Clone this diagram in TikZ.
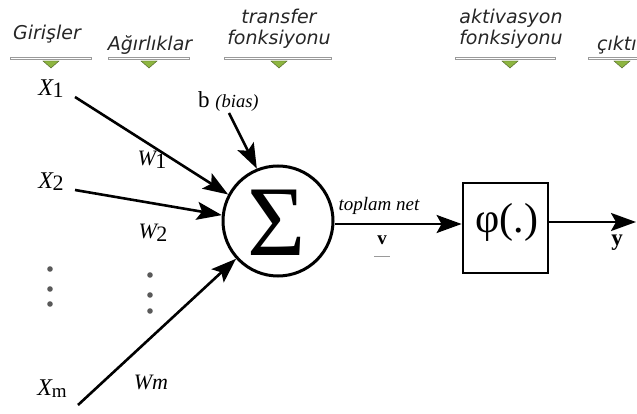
\documentclass[tikz,border=0pt]{standalone}
\usepackage{fontspec}
\setmainfont{Liberation Serif}
\newfontfamily\hdr{DejaVu Sans}
\usetikzlibrary{arrows.meta}
\definecolor{hgreen}{HTML}{8DB540}
\definecolor{hgray}{HTML}{9A9A9A}
\tikzset{
  hdrtext/.style={font=\hdr\itshape\fontsize{19}{20.5}\selectfont, text=black!85, align=center, inner sep=0pt},
  hbar/.style={draw=hgray, line width=2.8pt},
  tri/.style={fill=hgreen, draw=hgreen!50!black, line width=0.4pt},
  lbl/.style={font=\fontsize{24}{26}\selectfont, inner sep=0pt},
  wlbl/.style={font=\fontsize{22}{24}\selectfont, inner sep=0pt},
  arr/.style={line width=2.6pt, -{Stealth[length=25pt,width=18pt,inset=5pt]}},
  dotc/.style={fill=black!65, draw=none},
}
\begin{document}
\begin{tikzpicture}[x=1pt,y=-1pt]
\useasboundingbox (0,0) rectangle (637,414);
% headers
\node[hdrtext] (hg) at (47,34) {Girişler};
\node[hdrtext] (ha) at (150,45) {Ağırlıklar};
\node[hdrtext] (ht) at (279,29) {transfer\\fonksiyonu};
\node[hdrtext] (hk) at (511,29) {aktivasyon\\fonksiyonu};
\node[hdrtext, anchor=west] (hc) at (597,45) {çıktı};
\foreach \a/\b/\c in {10/92/51, 108/190/149, 224/332/279, 455/556/510, 588/650/622}{
  \draw[hbar] (\a,58.5) -- (\b,58.5);
  \draw[white, line width=0.6pt] (\a+1,58.5) -- (\b-1,58.5);
  \draw[tri] (\c-8,61) -- (\c+8,61) -- (\c,68) -- cycle;
}
% inputs
\node[lbl] (x1) at (51,89) {\textit{X}\kern-1pt\raisebox{-2pt}{\fontsize{22}{23}\selectfont 1}};
\node[lbl] (x2) at (51,182) {\textit{X}\kern-1pt\raisebox{-2pt}{\fontsize{22}{23}\selectfont 2}};
\node[lbl] (xm) at (52,389) {\textit{X}\kern-1pt\raisebox{-2pt}{\fontsize{19}{20}\selectfont m}};
\node[wlbl] (w1) at (152,160) {\textit{W}\kern-2pt\raisebox{-3pt}{1}};
\node[wlbl] (w2) at (153,233) {\textit{W}\kern-2pt\raisebox{-3pt}{2}};
\node[wlbl] (wm) at (151,382) {\textit{Wm}};
\foreach \y in {269,289,304}{\fill[dotc] (50,\y) circle (2.8pt);}
\foreach \y in {275,295,311}{\fill[dotc] (150,\y) circle (2.8pt);}
% bias
\node[inner sep=0pt, anchor=west] (b) at (198,101) {\fontsize{23}{25}\selectfont b \fontsize{18.5}{20}\selectfont\itshape(bias)};
% summation
\node[circle, draw, line width=3pt, minimum size=110pt, inner sep=0pt] (s) at (278,221) {};
\node[inner sep=0pt] (sig) at (277,223) {\fontsize{100}{102}\selectfont Σ};
\coordinate (x1s) at (75,97);
\coordinate (x2s) at (75,190);
\coordinate (xms) at (78,405);
\coordinate (bs) at (229,113);
\draw[arr] (x1s) -- (s.152);
\draw[arr] (x2s) -- (s.174);
\draw[arr] (xms) -- (s.222);
\draw[arr] (bs) -- (s.112);
% activation
\node[draw, line width=2.8pt, minimum width=85pt, minimum height=90pt, inner sep=0pt] (phi) at (505.5,228) {};
\node[inner sep=0pt] (phit) at (507,222) {\fontsize{42}{44}\selectfont φ(.)};
\coordinate (yend) at (636,222);
\draw[arr] (s.east |- 0,224) -- (phi.west |- 0,224);
\draw[arr] (phi.east |- 0,222) -- (yend);
\node[inner sep=0pt] (tn) at (379,206) {\fontsize{19}{20}\selectfont\itshape toplam net};
\node[inner sep=0pt] (v) at (382,240) {\fontsize{19}{20}\selectfont\bfseries v};
\draw[hgray, line width=0.8pt] (374,256) -- (390,256);
\node[inner sep=0pt] (y) at (617,243) {\fontsize{23}{25}\selectfont\bfseries y};
\end{tikzpicture}
\end{document}
